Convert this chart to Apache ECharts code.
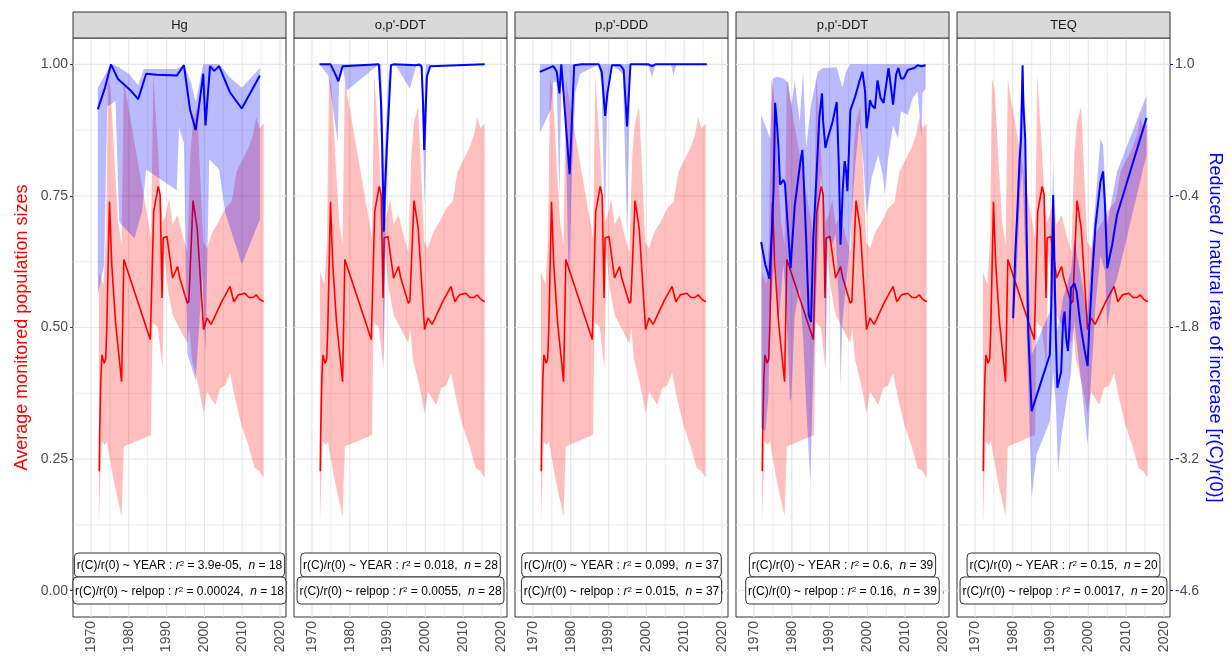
<!DOCTYPE html>
<html><head><meta charset="utf-8">
<script src="https://cdn.jsdelivr.net/npm/echarts@6/dist/echarts.min.js"></script>
<style>html,body{margin:0;padding:0;background:#fff}#c{width:1231px;height:662px}</style>
</head><body><div id="c"></div>
<script>
// ---------------- DATA ----------------
const panels = ['Hg', "o,p'-DDT", "p,p'-DDD", "p,p'-DDT", 'TEQ'];
const xTicks = [1970, 1980, 1990, 2000, 2010, 2020];
const xGridLines = [1970, 1975, 1980, 1985, 1990, 1995, 2000, 2005, 2010, 2015, 2020];
const yTicksLeft = [0, 0.25, 0.5, 0.75, 1];
const yGridLines = [0, 0.125, 0.25, 0.375, 0.5, 0.625, 0.75, 0.875, 1];
const yTicksRight = [-4.6, -3.2, -1.8, -0.4, 1.0];

// Average monitored population size (left axis), same in every panel
const redLine = [[1972.2,0.227],[1972.3,0.296],[1972.6,0.40],[1972.9,0.448],[1973.5,0.432],[1973.9,0.44],[1974.2,0.50],[1974.9,0.739],[1975.5,0.62],[1976.5,0.51],[1978.1,0.397],[1978.7,0.629],[1985.7,0.477],[1986.6,0.72],[1987.8,0.768],[1988.3,0.752],[1988.8,0.556],[1989.1,0.67],[1990.1,0.673],[1991.6,0.594],[1992.9,0.616],[1993.5,0.594],[1995.5,0.546],[1995.9,0.55],[1997.0,0.741],[1998.1,0.689],[1999.8,0.496],[2000.7,0.518],[2001.8,0.506],[2004.6,0.549],[2006.8,0.578],[2007.8,0.549],[2009.0,0.562],[2010.7,0.565],[2011.8,0.557],[2012.9,0.557],[2013.7,0.562],[2014.6,0.554],[2015.7,0.549]];
const redUpper = [[1972.1,0.606],[1973.3,0.581],[1974.0,0.67],[1974.5,0.973],[1975.2,0.954],[1976.3,0.81],[1977.2,0.70],[1978.1,0.657],[1978.7,0.973],[1979.4,0.94],[1985.9,0.67],[1986.5,0.98],[1987.7,0.84],[1988.3,0.758],[1989.0,0.70],[1989.8,0.714],[1990.7,0.745],[1991.6,0.695],[1992.9,0.714],[1994.2,0.676],[1995.5,0.644],[1996.3,0.83],[1997.0,0.89],[1998.1,0.92],[1999.7,0.663],[2000.7,0.65],[2002.0,0.68],[2003.7,0.70],[2005.5,0.726],[2007.2,0.739],[2008.5,0.796],[2009.8,0.815],[2011.6,0.84],[2012.9,0.866],[2013.7,0.90],[2014.6,0.878],[2015.7,0.888]];
const redLower = [[1972.1,0.125],[1972.8,0.284],[1973.7,0.277],[1974.2,0.284],[1976.0,0.21],[1978.1,0.141],[1978.7,0.274],[1985.9,0.296],[1986.3,0.51],[1987.7,0.50],[1988.9,0.42],[1989.4,0.644],[1990.3,0.575],[1991.6,0.524],[1993.3,0.50],[1995.5,0.47],[1996.0,0.50],[1996.7,0.44],[1998.4,0.39],[1999.8,0.337],[2000.7,0.378],[2002.9,0.353],[2004.2,0.385],[2005.5,0.39],[2006.8,0.413],[2008.1,0.366],[2009.8,0.315],[2011.6,0.277],[2013.3,0.233],[2014.6,0.227],[2015.7,0.214]];

// Reduced / natural rate of increase r(C)/r(0) (right axis), one set per panel
const blueLineHg = [[1971.8,0.52],[1973.7,0.75],[1975.3,1.0],[1977.2,0.84],[1980.3,0.73],[1982.5,0.63],[1984.6,0.90],[1987.4,0.89],[1992.7,0.88],[1994.6,0.99],[1996.2,0.52],[1997.7,0.30],[1998.8,0.62],[1999.7,0.90],[2000.3,0.35],[2001.5,0.98],[2002.6,0.93],[2003.9,0.98],[2006.8,0.70],[2009.9,0.53],[2014.7,0.88]];
const blueUpperHg = [[1971.8,0.75],[1975.3,1.0],[1977.0,0.98],[1980.0,0.90],[1982.5,0.78],[1984.0,0.95],[1992.7,0.95],[1994.6,1.0],[1996.5,0.80],[1997.7,0.60],[1999.7,1.0],[2003.9,1.0],[2006.8,0.86],[2009.9,0.75],[2014.7,0.96]];
const blueLowerHg = [[1971.8,-1.46],[1973.5,-1.13],[1974.3,0.55],[1976.5,0.61],[1977.5,-0.68],[1981.5,-0.85],[1983.5,-0.57],[1984.6,-0.12],[1992.7,-0.34],[1993.3,0.33],[1994.6,0.16],[1995.5,-2.08],[1997.7,-2.36],[1999.5,-1.24],[2000.3,-2.08],[2001.3,-0.01],[2003.9,-0.12],[2005.5,-0.57],[2009.9,-1.13],[2014.7,-0.65]];

const blueLineOpDDT = [[1972.0,1.0],[1974.9,1.0],[1975.9,0.92],[1977.0,0.82],[1978.1,0.98],[1978.5,1.0],[1987.7,1.0],[1988.3,0.57],[1988.6,0.11],[1989.0,-0.78],[1989.3,-0.35],[1989.8,0.11],[1990.3,0.50],[1990.9,0.99],[1991.6,1.0],[1997.7,0.99],[1998.3,1.0],[1999.0,0.98],[1999.4,0.57],[1999.7,0.09],[2000.1,0.54],[2000.4,0.87],[2001.3,0.98],[2001.8,1.0],[2015.7,1.0]];
const blueUpperOpDDT = [[1972.0,1.0],[1988.3,1.0],[1988.6,0.6],[1989.0,-0.2],[1989.5,0.3],[1990.3,0.9],[1990.9,1.0],[1999.2,1.0],[1999.7,0.55],[2000.2,1.0],[2015.7,1.0]];
const blueLowerOpDDT = [[1972.0,1.0],[1974.3,0.88],[1976.8,0.18],[1977.2,0.85],[1978.1,0.98],[1979.2,0.72],[1987.7,1.0],[1988.2,0.3],[1989.0,-2.2],[1989.6,-0.5],[1990.5,0.6],[1991.2,1.0],[1992.0,1.0],[1995.9,0.74],[1997.7,1.0],[1999.0,0.95],[1999.8,-0.5],[2000.6,0.9],[2001.3,1.0],[2015.7,1.0]];

const blueLinePpDDD = [[1971.8,0.92],[1975.4,0.98],[1975.9,1.0],[1976.3,0.92],[1977.0,0.69],[1977.5,1.0],[1978.1,0.69],[1979.0,0.20],[1979.7,-0.17],[1980.1,0.20],[1980.9,0.99],[1982.9,1.0],[1985.1,1.0],[1987.4,1.0],[1988.2,0.92],[1989.1,0.45],[1989.7,0.69],[1990.9,0.99],[1993.1,0.99],[1994.0,0.94],[1994.9,0.34],[1995.8,1.0],[2000.6,1.0],[2001.5,0.98],[2002.4,1.0],[2016.0,1.0]];
const blueUpperPpDDD = [[1971.8,1.0],[2016.0,1.0]];
const blueLowerPpDDD = [[1971.8,0.27],[1974.7,0.52],[1975.4,0.81],[1976.3,0.81],[1977.0,-0.40],[1977.5,0.80],[1978.5,0.60],[1979.5,-1.40],[1980.3,-0.20],[1981.2,0.70],[1982.5,0.90],[1987.4,1.0],[1988.2,0.75],[1989.0,-0.76],[1989.7,0.75],[1990.6,1.0],[1993.8,0.90],[1994.9,-0.79],[1995.8,1.0],[2000.6,0.98],[2001.5,0.86],[2002.4,1.0],[2006.5,1.0],[2007.2,0.88],[2008.0,1.0],[2016.0,1.0]];

const blueLinePpDDT = [[1971.9,-0.89],[1973.0,-1.13],[1974.1,-1.28],[1974.8,-0.71],[1975.2,-0.32],[1975.6,0.59],[1976.1,0.35],[1976.5,0.11],[1976.9,-0.28],[1977.8,-0.23],[1978.2,-0.27],[1979.1,-0.81],[1979.7,-1.17],[1979.9,-1.03],[1980.8,-0.50],[1982.3,-0.03],[1982.8,0.09],[1983.0,-0.07],[1983.8,-0.85],[1984.5,-1.67],[1985.1,-1.74],[1985.7,-0.85],[1986.6,-0.14],[1987.3,0.43],[1988.0,0.69],[1988.3,0.39],[1988.9,0.11],[1989.5,0.21],[1990.8,0.39],[1991.9,0.60],[1992.5,-0.14],[1992.9,-0.92],[1993.5,-0.32],[1994.0,-0.03],[1994.4,-0.14],[1994.7,-0.35],[1995.1,0.04],[1995.5,0.51],[1996.8,0.66],[1997.9,0.82],[1998.7,0.92],[1999.4,0.71],[1999.8,0.32],[2000.3,0.46],[2000.7,0.62],[2001.1,0.57],[2002.0,0.53],[2002.7,0.83],[2003.5,0.64],[2004.3,0.59],[2005.6,0.96],[2006.3,0.74],[2006.8,0.57],[2007.6,0.89],[2008.2,0.96],[2008.9,0.85],[2009.6,0.85],[2010.7,0.94],[2012.4,0.96],[2013.3,0.99],[2014.3,0.98],[2015.4,0.99]];
const blueUpperPpDDT = [[1971.9,0.46],[1974.3,0.21],[1975.0,0.85],[1976.1,0.87],[1977.8,0.85],[1979.1,0.80],[1979.9,0.57],[1980.8,0.82],[1982.1,0.39],[1983.0,0.92],[1983.8,0.11],[1985.1,0.57],[1986.9,0.92],[1988.2,0.96],[1991.9,0.97],[1993.4,0.75],[1994.3,0.92],[1995.5,1.0],[2015.4,1.0]];
const blueLowerPpDDT = [[1971.9,-2.87],[1973.0,-2.91],[1973.8,-2.55],[1974.3,-1.67],[1975.6,-0.99],[1976.5,-1.74],[1977.8,-1.13],[1978.6,-1.63],[1979.5,-2.59],[1979.9,-2.55],[1980.8,-1.67],[1982.1,-1.38],[1983.0,-1.91],[1983.8,-2.62],[1984.9,-3.44],[1985.7,-2.27],[1986.9,-0.99],[1987.7,-0.14],[1988.6,-0.64],[1988.9,-2.23],[1989.5,-0.85],[1990.8,-0.92],[1991.6,-0.80],[1992.7,-1.74],[1992.9,-2.44],[1993.4,-1.74],[1995.1,-1.03],[1996.8,-0.07],[1997.9,0.39],[1999.0,-0.07],[1999.8,-0.60],[2001.1,-0.21],[2002.9,0.04],[2004.2,-0.21],[2004.6,-0.39],[2005.5,0.0],[2006.8,0.35],[2008.1,0.21],[2008.9,0.50],[2010.7,0.46],[2012.0,0.64],[2013.3,0.71],[2014.3,0.21],[2014.6,0.70],[2015.4,0.74]];

const blueLineTEQ = [[1980.1,-1.70],[1980.7,-0.99],[1981.3,-0.50],[1981.8,-0.03],[1982.2,0.21],[1982.6,0.99],[1982.8,0.57],[1983.3,0.21],[1983.7,-0.85],[1984.1,-1.84],[1985.0,-2.69],[1989.8,-2.09],[1990.2,-1.56],[1990.7,-0.39],[1990.9,-0.85],[1991.4,-1.91],[1991.8,-2.44],[1992.8,-2.27],[1993.3,-1.74],[1993.7,-1.63],[1994.1,-1.91],[1994.6,-2.05],[1995.0,-1.81],[1995.4,-1.38],[1996.3,-1.33],[1996.9,-1.42],[1997.8,-1.74],[1998.9,-2.02],[1999.8,-2.21],[2000.2,-1.84],[2001.1,-1.20],[2001.9,-0.71],[2003.2,-0.25],[2003.9,-0.14],[2004.4,-0.50],[2005.0,-1.17],[2006.3,-0.92],[2007.6,-0.60],[2015.4,0.43]];
const blueUpperTEQ = [[1980.1,-1.63],[1980.7,-0.85],[1981.5,0.04],[1982.6,0.99],[1983.3,0.50],[1983.7,-0.67],[1985.0,-2.09],[1989.8,-1.63],[1990.7,0.0],[1991.1,-1.03],[1991.8,-1.84],[1993.3,-1.49],[1995.4,-1.20],[1996.3,-0.85],[1997.8,-1.20],[1999.8,-1.67],[2001.1,-0.85],[2003.2,0.21],[2003.9,0.14],[2005.0,-0.71],[2006.3,-0.42],[2007.6,-0.14],[2015.4,0.67]];
const blueLowerTEQ = [[1980.1,-1.84],[1981.1,-1.20],[1982.0,-0.32],[1982.6,-0.14],[1983.3,-1.03],[1983.7,-1.91],[1985.0,-3.61],[1986.3,-3.15],[1989.8,-2.80],[1990.7,-2.27],[1991.4,-2.62],[1992.0,-3.33],[1992.8,-2.98],[1994.1,-2.62],[1995.4,-2.27],[1996.3,-1.74],[1997.8,-2.27],[1999.8,-3.05],[2000.6,-2.44],[2001.9,-1.56],[2003.2,-1.03],[2004.4,-1.20],[2005.0,-1.81],[2006.3,-1.42],[2007.6,-1.28],[2015.4,0.04]];

const blueLines = [blueLineHg, blueLineOpDDT, blueLinePpDDD, blueLinePpDDT, blueLineTEQ];
const blueUppers = [blueUpperHg, blueUpperOpDDT, blueUpperPpDDD, blueUpperPpDDT, blueUpperTEQ];
const blueLowers = [blueLowerHg, blueLowerOpDDT, blueLowerPpDDD, blueLowerPpDDT, blueLowerTEQ];

const statYear = [['3.9e-05', 18], ['0.018', 28], ['0.099', 37], ['0.6', 39], ['0.15', 20]];
const statRelpop = [['0.00024', 18], ['0.0055', 28], ['0.015', 37], ['0.16', 39], ['0.0017', 20]];

// ---------------- LAYOUT ----------------
const FONT = 'Liberation Sans, Arial, sans-serif';
const L0 = 73, STEP = 221, PW = 213, TOP = 38, PH = 579;
const LABEL_FS = 12;

const chart = echarts.init(document.getElementById('c'), null, {renderer: 'canvas'});
const mctx = document.createElement('canvas').getContext('2d');
function textW(s, size, style) { mctx.font = (style || '') + ' ' + size + 'px ' + FONT; return mctx.measureText(s).width; }

const grids = [], xAxes = [], yAxes = [], series = [], graphics = [];

function bandRender(upper, lower, fill) {
  return function (params, api) {
    const pts = upper.map(p => api.coord(p)).concat(lower.slice().reverse().map(p => api.coord(p)));
    return {type: 'polygon', shape: {points: pts}, style: {fill: fill}};
  };
}

panels.forEach((name, i) => {
  const left = L0 + STEP * i;
  grids.push({left: left, top: TOP, width: PW, height: PH, show: true, borderColor: '#333', borderWidth: 1, backgroundColor: '#fff'});
  xAxes.push({
    type: 'value', gridIndex: i, min: 1965.25, max: 2021.6,
    axisLine: {show: false}, splitLine: {show: false},
    axisTick: {show: true, customValues: xTicks, length: 3, lineStyle: {color: '#333'}},
    axisLabel: {customValues: xTicks, rotate: 90, color: '#4d4d4d', fontSize: 14, margin: 4, fontFamily: FONT, formatter: v => String(v)}
  });
  yAxes.push({
    type: 'value', gridIndex: i, min: -0.05, max: 1.05,
    axisLine: {show: false}, splitLine: {show: false},
    axisTick: {show: i === 0, customValues: yTicksLeft, length: 3, lineStyle: {color: '#333'}},
    axisLabel: {show: i === 0, customValues: yTicksLeft, color: '#4d4d4d', fontSize: 14, margin: 5, fontFamily: FONT, formatter: v => v.toFixed(2)},
    name: i === 0 ? 'Average monitored population sizes' : '',
    nameLocation: 'middle', nameGap: 42, nameRotate: 90,
    nameTextStyle: {color: '#ff0000', fontSize: 18, fontFamily: FONT}
  });
  yAxes.push({
    type: 'value', gridIndex: i, position: 'right', min: -4.88, max: 1.28,
    axisLine: {show: false}, splitLine: {show: false},
    axisTick: {show: i === 4, customValues: yTicksRight, length: 3, lineStyle: {color: '#0000ff'}},
    axisLabel: {show: i === 4, customValues: yTicksRight, color: '#4d4d4d', fontSize: 14, margin: 5, fontFamily: FONT, formatter: v => v.toFixed(1)},
    name: i === 4 ? 'Reduced / natural rate of increase [r(C)/r(0)]' : '',
    nameLocation: 'middle', nameGap: 36, nameRotate: -90,
    nameTextStyle: {color: '#0000ff', fontSize: 18, fontFamily: FONT}
  });
  const yP = 2 * i, yS = 2 * i + 1;
  // grid lines
  series.push({
    type: 'custom', xAxisIndex: i, yAxisIndex: yP, silent: true, z: 1,
    data: xGridLines.map(v => [v, 0]),
    renderItem: (params, api) => {
      const cs = params.coordSys; const v = api.value(0);
      const x = api.coord([v, 0])[0];
      return {type: 'line', shape: {x1: x, y1: cs.y, x2: x, y2: cs.y + cs.height}, style: {stroke: '#e6e6e6', lineWidth: v % 10 === 0 ? 1.2 : 0.7}};
    }
  });
  series.push({
    type: 'custom', xAxisIndex: i, yAxisIndex: yP, silent: true, z: 1,
    data: yGridLines.map(v => [1990, v]),
    renderItem: (params, api) => {
      const cs = params.coordSys; const v = api.value(1);
      const y = api.coord([1990, v])[1];
      return {type: 'line', shape: {x1: cs.x, y1: y, x2: cs.x + cs.width, y2: y}, style: {stroke: '#e6e6e6', lineWidth: (v * 4) % 1 === 0 ? 1.2 : 0.7}};
    }
  });
  // red ribbon + line
  series.push({type: 'custom', xAxisIndex: i, yAxisIndex: yP, silent: true, z: 2, data: [[1990, 0.5]],
    renderItem: bandRender(redUpper, redLower, 'rgba(255,0,0,0.25)')});
  series.push({type: 'line', xAxisIndex: i, yAxisIndex: yP, data: redLine, symbol: 'none', silent: true, z: 3,
    lineStyle: {color: '#ff0000', width: 1.6}});
  // blue ribbon + line
  series.push({type: 'custom', xAxisIndex: i, yAxisIndex: yS, silent: true, z: 4, data: [[1990, 0]],
    renderItem: bandRender(blueUppers[i], blueLowers[i], 'rgba(0,0,255,0.27)')});
  series.push({type: 'line', xAxisIndex: i, yAxisIndex: yS, data: blueLines[i], symbol: 'none', silent: true, z: 5,
    lineStyle: {color: '#0000ff', width: 2}});

  // strip
  graphics.push({type: 'rect', shape: {x: left, y: 12, width: PW, height: 26}, style: {fill: '#d9d9d9', stroke: '#333', lineWidth: 1}, z: 100});
  graphics.push({type: 'text', x: left + PW / 2, y: 25, style: {text: name, fill: '#1a1a1a', font: '13px ' + FONT, align: 'center', verticalAlign: 'middle'}, z: 101});

  // r^2 labels (box clipped to the panel, like the original)
  const rich = {i: {fontStyle: 'italic', fontSize: LABEL_FS, fontFamily: FONT}, s: {fontSize: 8, verticalAlign: 'top', fontFamily: FONT}};
  const cx = left + PW / 2;
  const mk = (term, st, y0, h, z) => {
    const plain = 'r(C)/r(0) ~ ' + term + ' :  = ' + st[0] + ',  = ' + st[1];
    const w = textW(plain, LABEL_FS) + textW('r', LABEL_FS, 'italic') + textW('n', LABEL_FS, 'italic') + textW('2', 8) + 8;
    const x0 = Math.max(cx - w / 2, left), x1 = Math.min(cx + w / 2, left + PW);
    graphics.push({type: 'rect', shape: {x: x0, y: y0, width: x1 - x0, height: h, r: 4}, style: {fill: '#fff', stroke: '#333', lineWidth: 1}, z: z});
    graphics.push({type: 'text', x: cx, y: y0 + h / 2 + 1, z: z + 1, style: {
      text: 'r(C)/r(0) ~ ' + term + ' : {i|r}{s|2} = ' + st[0] + ',  {i|n} = ' + st[1],
      rich: rich, fill: '#000', font: LABEL_FS + 'px ' + FONT, align: 'center', verticalAlign: 'middle'}});
  };
  mk('YEAR', statYear[i], 553, 24, 102);
  mk('relpop', statRelpop[i], 577, 27, 104);
});

chart.setOption({
  animation: false,
  backgroundColor: '#fff',
  textStyle: {fontFamily: FONT},
  grid: grids, xAxis: xAxes, yAxis: yAxes, series: series,
  graphic: {elements: graphics}
});
</script>
</body></html>
